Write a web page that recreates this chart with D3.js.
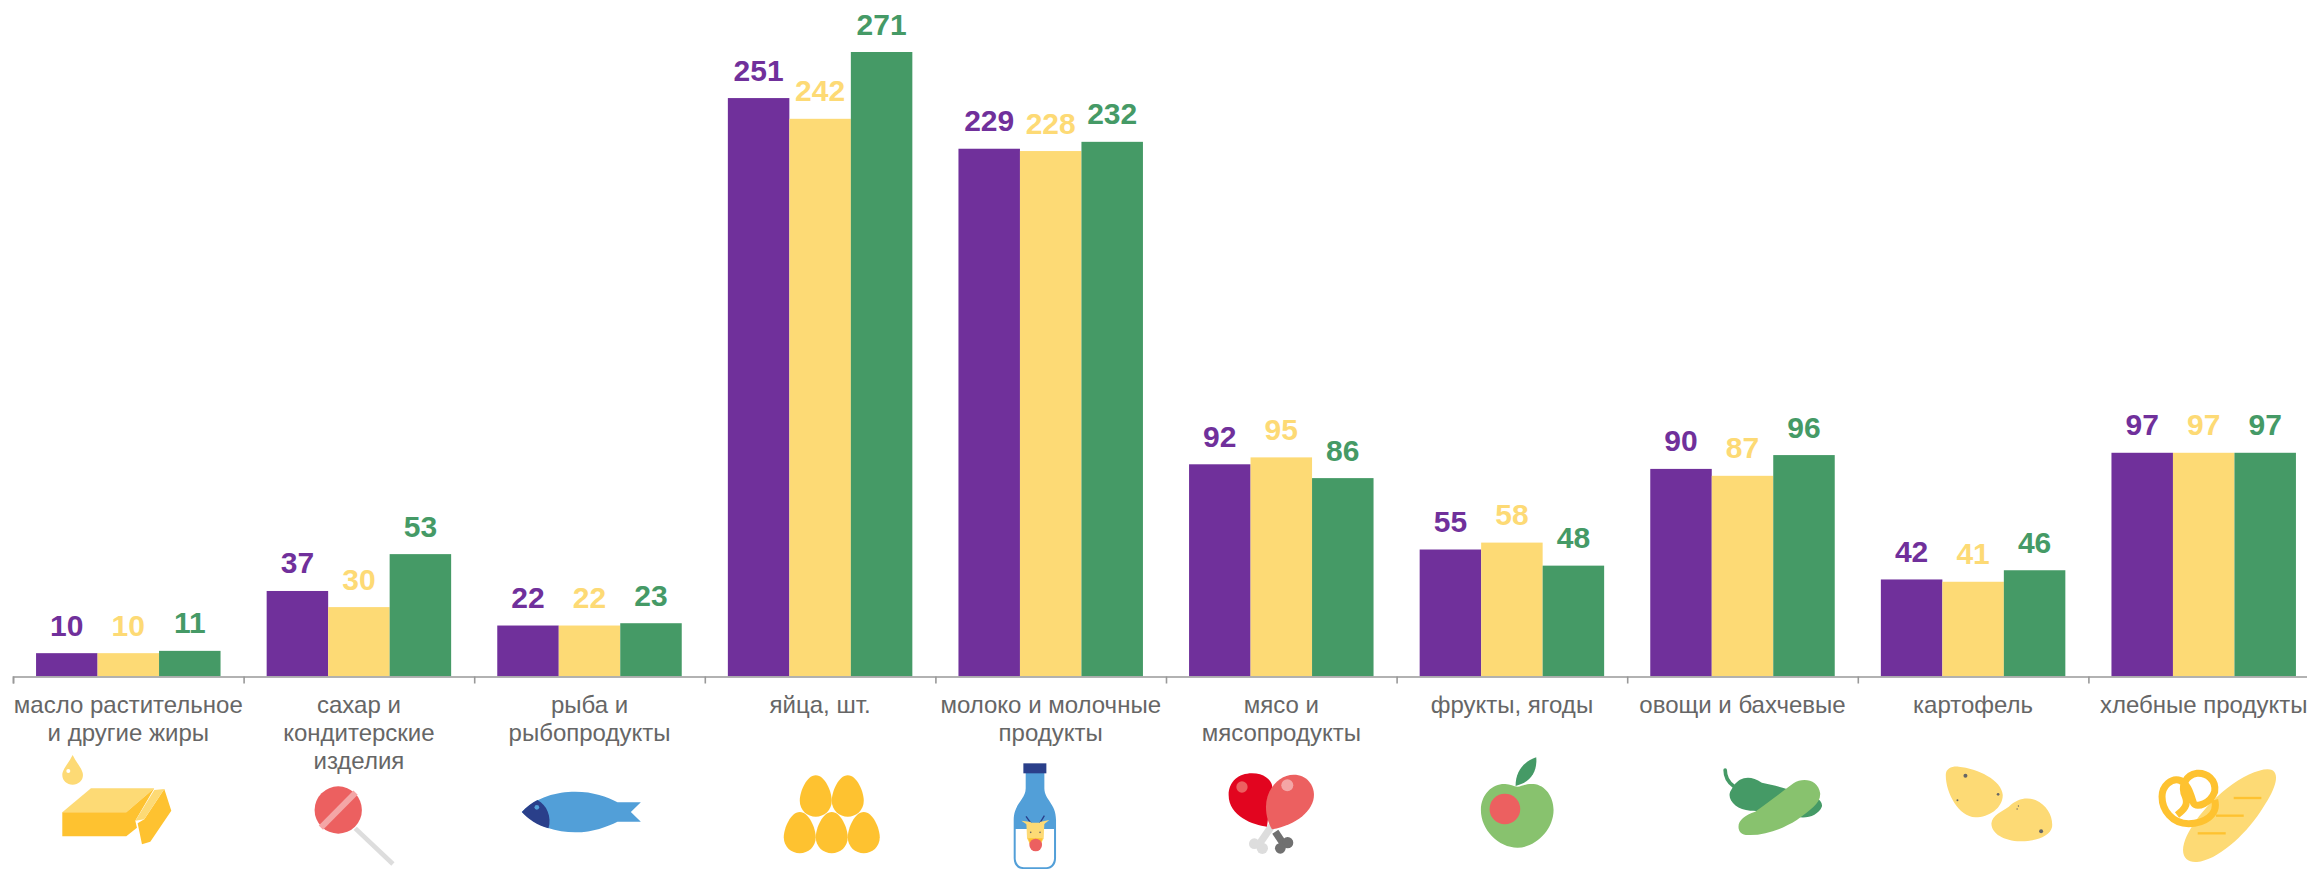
<!DOCTYPE html>
<html>
<head>
<meta charset="utf-8">
<script src="https://cdn.jsdelivr.net/npm/d3@7"></script>
<style>
  html, body { margin: 0; padding: 0; background: #fff; overflow: hidden; }
  text { font-family: "Liberation Sans", Arial, sans-serif; }
</style>
</head>
<body>
<div id="vis"></div>
<script>
var categories = ["масло растительное\nи другие жиры", "сахар и\nкондитерские\nизделия", "рыба и\nрыбопродукты",
  "яйца, шт.", "молоко и молочные\nпродукты", "мясо и\nмясопродукты", "фрукты, ягоды", "овощи и бахчевые",
  "картофель", "хлебные продукты"];
var seriesA = [10, 37, 22, 251, 229, 92, 55, 90, 42, 97];
var seriesB = [10, 30, 22, 242, 228, 95, 58, 87, 41, 97];
var seriesC = [11, 53, 23, 271, 232, 86, 48, 96, 46, 97];
var seriesColors = ["#70309b", "#fdda75", "#459a66"];

var width = 2307, height = 869;
var gold = "#fec230", pale = "#fdda75", red = "#ec6060", blue = "#529fd8", navy = "#2a3f8a",
    lime = "#88c26e", green = "#459a66";

var svg = d3.select("#vis").append("svg")
    .attr("width", width)
    .attr("height", height)
    .style("display", "block");

var x = d3.scaleBand().domain(d3.range(categories.length)).range([13, 2319]).paddingInner(0.2).paddingOuter(0.1);
var x1 = d3.scaleBand().domain([0, 1, 2]).range([0, x.bandwidth()]);
var y = d3.scaleLinear().domain([0, 271]).range([676.2, 52]);

// bars and value labels
[seriesA, seriesB, seriesC].forEach(function(values, s) {
  var g = svg.append("g").attr("transform", "translate(" + x1(s) + ",0)");
  g.selectAll("rect").data(values).enter().append("rect")
      .attr("x", function(d, i) { return x(i); })
      .attr("y", function(d) { return y(d); })
      .attr("width", x1.bandwidth())
      .attr("height", function(d) { return y(0) - y(d); })
      .attr("fill", seriesColors[s]);
  g.selectAll("text").data(values).enter().append("text")
      .attr("x", function(d, i) { return x(i) + x1.bandwidth() / 2; })
      .attr("y", function(d) { return y(d) - 17.5; })
      .attr("text-anchor", "middle")
      .attr("font-size", 30)
      .attr("font-weight", "bold")
      .attr("fill", seriesColors[s])
      .text(function(d) { return d; });
});

// axis, ticks sit on the band edges
var edges = d3.scaleLinear().domain([0, categories.length]).range(x.range());
var axis = svg.append("g")
    .attr("transform", "translate(0,676.5)")
    .call(d3.axisBottom(edges).ticks(categories.length).tickFormat("").tickSize(7).tickSizeOuter(7));
axis.selectAll("path, line").attr("stroke", "#999").attr("stroke-width", 1.6);

// category labels
categories.forEach(function(c, i) {
  var t = svg.append("text")
      .attr("text-anchor", "middle")
      .attr("font-size", 24)
      .attr("fill", "#666");
  c.split("\n").forEach(function(line, k) {
    t.append("tspan")
        .attr("x", x(i) + x.bandwidth() / 2)
        .attr("y", 713 + k * 28)
        .text(line);
  });
});

////////// icons //////////
// drawn in 3x units, the anchor is the horizontal centre of the bar group in those units

function icon(i, anchor) {
  return svg.append("g")
      .attr("transform", "translate(" + (x(i) + x.bandwidth() / 2 - anchor / 3) + ",660) scale(" + 1 / 3 + ")");
}
function p(g, d, fill) { return g.append("path").attr("d", d).attr("fill", fill); }
function c(g, cx, cy, r, fill) { return g.append("circle").attr("cx", cx).attr("cy", cy).attr("r", r).attr("fill", fill); }
function l(g, d, stroke, w) {
  return g.append("path").attr("d", d).attr("fill", "none").attr("stroke", stroke).attr("stroke-width", w);
}

var butter = icon(0, 384);
p(butter, "M217 285C205 310 186 328 186 345C186 362 200 374 217 374C234 374 248 362 248 345C248 328 229 310 217 285Z", pale);
c(butter, 204, 333, 6, "#fff");
p(butter, "M186 457L272 385L462 385L378 457Z", pale);
p(butter, "M186 457L378 457L462 385L405 482L410 503L378 529L186 529Z", gold);
p(butter, "M492 387L513 452L450 545L425 553L412 490L432 478Z", gold);
p(butter, "M462 390L492 387L432 478L405 482Z", pale);

var candy = icon(1, 1076);
l(candy, "M1065 505L1178 612", "#ddd", 14);
c(candy, 1014, 450, 71, red);
l(candy, "M962 503L1066 398", "#f4a6a6", 18);

var fish = icon(2, 328);
p(fish, "M125 456C170 410 230 395 285 395C340 395 380 410 412 427L482 427L452 456L482 485L412 485C380 500 340 517 285 517C230 517 170 500 125 456Z", blue);
p(fish, "M125 456C140 440 155 428 172 420C200 435 215 470 205 505C170 495 145 478 125 456Z", navy);
c(fish, 170, 442, 7, blue);

var eggs = icon(3, 1019);
[[1006, 346], [1102, 346], [958, 456], [1054, 456], [1150, 456]].forEach(function(e) {
  var cx = e[0], t = e[1];
  p(eggs, "M" + cx + " " + t + "C" + (cx + 28) + " " + t + " " + (cx + 48) + " " + (t + 50) + " " + (cx + 48) + " " + (t + 76) +
    "C" + (cx + 48) + " " + (t + 105) + " " + (cx + 25) + " " + (t + 124) + " " + cx + " " + (t + 124) +
    "C" + (cx - 25) + " " + (t + 124) + " " + (cx - 48) + " " + (t + 105) + " " + (cx - 48) + " " + (t + 76) +
    "C" + (cx - 48) + " " + (t + 50) + " " + (cx - 28) + " " + t + " " + cx + " " + t + "Z", gold);
});

var milk = icon(4, 271);
p(milk, "M196 338L252 338L252 385C252 420 287 430 287 480L287 595C287 615 275 627 260 627L187 627C172 627 160 615 160 595L160 480C160 430 196 420 196 385Z", blue);
p(milk, "M166 507L281 507L281 595C281 610 270 622 258 622L190 622C176 622 166 610 166 595Z", "#fff");
milk.append("rect").attr("x", 189).attr("y", 310).attr("width", 69).attr("height", 30).attr("fill", navy);
l(milk, "M212 490L197 469", navy, 4);
l(milk, "M238 490L252 467", navy, 4);
p(milk, "M183 482L212 486L206 498Z", pale);
p(milk, "M267 480L238 486L244 498Z", pale);
p(milk, "M198 488L252 488L250 535L238 560L212 560L200 535Z", pale);
p(milk, "M203 535L247 535L238 560L212 560Z", gold);
c(milk, 226, 555, 19, red);
c(milk, 211, 517, 2.5, "#666");
c(milk, 239, 517, 2.5, "#666");

var meat = icon(5, 963);
l(meat, "M945 515L975 560", "#707070", 22);
c(meat, 982, 548, 17, "#707070");
c(meat, 960, 565, 16, "#707070");
p(meat, "M875 340C920 340 940 370 935 385L920 500C880 495 805 470 805 405C805 365 835 340 875 340Z", "#e2051f");
c(meat, 845, 381, 17, "#ec6060");
l(meat, "M935 497L895 555", "#ddd", 22);
c(meat, 882, 551, 16, "#ddd");
c(meat, 906, 565, 17, "#ddd");
p(meat, "M1000 344C1040 344 1061 375 1061 405C1061 450 1010 495 935 508C925 490 917 470 917 440C917 390 955 344 1000 344Z", red);
c(meat, 981, 376, 18, "#f4a6a6");

var apple = icon(6, 215);
p(apple, "M122 450C122 400 160 370 195 372C210 372 220 380 232 380C245 380 255 370 280 372C315 375 340 410 340 450C340 510 285 563 232 563C175 563 122 510 122 450Z", lime);
c(apple, 194, 447, 46, red);
p(apple, "M226 378C226 335 250 305 288 292C292 335 270 368 226 378Z", green);

var veg = icon(7, 907);
l(veg, "M855 330C855 350 862 365 880 378", green, 11).attr("stroke-linecap", "round");
p(veg, "M880 378C900 350 930 345 965 368C1000 375 1040 385 1060 395C1120 400 1150 420 1145 440C1135 465 1100 478 1070 470C1020 450 960 455 930 452C890 450 860 420 870 395Z", green);
p(veg, "M895 500C895 480 915 465 945 455C980 430 1020 400 1060 370C1090 350 1135 360 1140 400C1142 430 1110 450 1070 480C1030 505 980 525 930 525C905 527 895 515 895 500Z", lime);

var potato = icon(8, 338);
p(potato, "M256 345C256 325 275 318 295 320C350 325 425 360 427 405C427 445 385 472 345 472C295 470 256 400 256 345Z", pale);
p(potato, "M393 490C395 465 425 455 445 440C470 415 500 410 525 420C560 435 578 470 575 500C570 530 520 545 480 544C430 543 392 520 393 490Z", pale);
[[315, 347, 6], [413, 403, 4], [291, 421, 3], [474, 438, 2], [470, 447, 2], [542, 514, 6]].forEach(function(s) {
  c(potato, s[0], s[1], s[2], "#666");
});

var bread = icon(9, 1030);
p(bread, "M968 570C970 520 1030 440 1100 385C1150 345 1210 320 1235 330C1260 345 1245 390 1200 455C1150 530 1070 600 1010 606C985 608 968 595 968 570Z", pale);
["M1120 414L1203 414", "M1067 467L1150 467", "M1012 520L1096 520"].forEach(function(d) { l(bread, d, gold, 7); });
l(bread, "M1063 420C1075 465 1030 491 985 491C935 491 905 450 905 410C905 375 935 355 955 360C985 365 995 420 1000 430C1010 445 1050 430 1063 395C1068 360 1040 338 1010 340C975 345 960 380 975 410C985 435 970 450 950 465", gold, 21);
</script>
</body>
</html>
